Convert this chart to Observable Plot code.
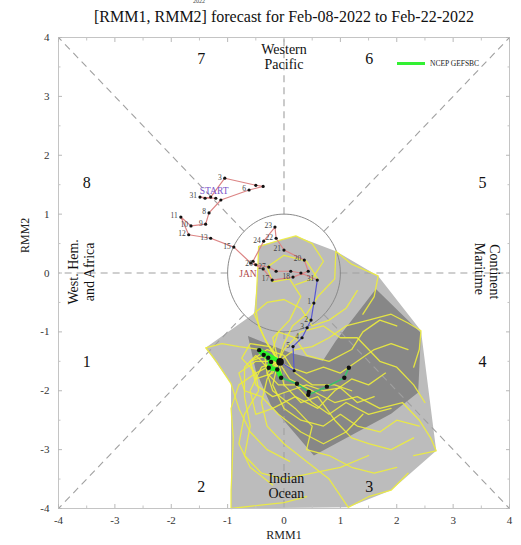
<!DOCTYPE html>
<html><head><meta charset="utf-8">
<script src="https://cdn.jsdelivr.net/npm/d3@7"></script>
<script src="https://cdn.jsdelivr.net/npm/@observablehq/plot@0.6"></script>
<style>
body{margin:0;background:#fff;}
#wrap{position:relative;width:521px;height:545px;font-family:"Liberation Serif","DejaVu Serif",serif;overflow:hidden;}
#title{position:absolute;top:8px;left:284px;transform:translateX(-50%);white-space:nowrap;font-size:16px;line-height:18px;color:#111;}
#yr{position:absolute;top:-2px;left:193px;font-size:6px;color:#444;}
#leg{position:absolute;left:397px;top:56px;height:14px;display:flex;align-items:center;}
#leg .ln{width:28px;height:3px;background:#33f033;margin-right:5px;}
#leg .tx{font-size:7.5px;color:#222;white-space:nowrap;}
#chart{position:absolute;left:0;top:0;}
</style></head><body>
<div id="wrap"><div id="chart"></div>
<div id="yr">2022</div>
<div id="title">[RMM1, RMM2] forecast for Feb-08-2022 to Feb-22-2022</div>
<div id="leg"><div class="ln"></div><div class="tx">NCEP GEFSBC</div></div>
</div>
<script>
// ---- data ----
const majorTicks = [-4,-3,-2,-1,0,1,2,3,4];
const minorTicks = [-3.5,-2.5,-1.5,-0.5,0.5,1.5,2.5,3.5];

const phaseIds = ["1","2","3","4","5","6","7","8"];
const phaseX = [-3.5,-1.47,1.51,3.52,3.52,1.51,-1.47,-3.5];
const phaseY = [-1.51,-3.64,-3.64,-1.51,1.53,3.64,3.64,1.53];

const regionText = ["Western","Pacific","Indian","Ocean"];
const regionX = [0,0,0.04,0.04];
const regionY = [3.80,3.54,-3.49,-3.75];
const westText = ["West. Hem.","and Africa"];
const westX = [-3.73,-3.45];
const westY = [0.02,0.02];
const mcText = ["Maritime","Continent"];
const mcX = [3.46,3.73];
const mcY = [0.07,0.02];

// observed RMM (Dec 30 .. Feb 7)
const obsX = [-1.21,-1.49,-1.40,-1.30,-1.05,-0.50,-0.37,-0.62,-1.12,-1.33,-1.39,-1.65,-1.83,-1.69,-1.30,-0.89,-0.59,-0.37,-0.21,0.16,0.43,0.36,0.00,-0.14,-0.16,-0.36,-0.55,-0.50,-0.27,-0.14,0.12,0.30,0.59,0.53,0.48,0.41,0.32,0.16,0.18,-0.07];
const obsY = [1.27,1.29,1.27,1.29,1.61,1.49,1.47,1.41,1.24,1.02,0.83,0.80,0.95,0.65,0.59,0.44,0.17,0.07,-0.12,-0.07,0.03,0.22,0.39,0.59,0.78,0.54,0.20,0.14,0.10,0.03,0.03,0.00,-0.12,-0.51,-0.80,-0.93,-1.10,-1.25,-1.66,-1.51];
const obsLabel = ["","31","","","3","","","6","","8","9","10","11","12","13","15","","","17","18","","20","21","22","23","24","","26","27","","","","31","1","2","3","4","5","",""];
const obsMonth = ["D","D","J","J","J","J","J","J","J","J","J","J","J","J","J","J","J","J","J","J","J","J","J","J","J","J","J","J","J","J","J","J","J","F","F","F","F","F","F","F"];
const monthText = ["START","JAN"];
const monthX = [-1.24,-0.64];
const monthY = [1.40,-0.02];

// ensemble mean forecast
const fcX = [-0.07,-0.44,-0.36,-0.28,-0.23,-0.27,-0.12,-0.05,0.23,0.44,0.43,0.76,1.07,1.15];
const fcY = [-1.51,-1.31,-1.39,-1.44,-1.51,-1.61,-1.64,-1.78,-1.88,-2.02,-2.07,-1.93,-1.78,-1.61];

// ensemble spread hulls
const spread90 = [[-0.46,0.46],[0.21,0.63],[0.92,0.37],[1.67,-0.05],[2.43,-0.98],[2.70,-3.02],[1.90,-3.69],[1.14,-3.98],[-0.94,-4.0],[-0.94,-1.88],[-1.39,-1.27],[-0.53,-0.69],[-0.46,0.03]];
const spread50 = [[-0.64,-1.07],[0.12,-1.36],[0.69,-1.49],[0.92,-1.15],[1.63,-0.27],[2.43,-1.02],[2.38,-2.03],[1.90,-2.39],[0.53,-3.10],[-0.23,-2.25],[-0.50,-1.66]];

// ensemble members
const members = [
 [[-0.1,-1.5],[-0.3,-1.2],[-0.45,-0.9],[-0.5,-0.6],[-0.48,-0.2],[-0.46,0.2],[-0.45,0.45],[-0.1,0.55],[0.21,0.63],[0.5,0.5],[0.7,0.2],[0.5,-0.1],[0.2,-0.2]],
 [[-0.1,-1.5],[0.0,-1.2],[0.15,-0.9],[0.4,-0.7],[0.6,-0.4],[0.9,-0.1],[0.92,0.37],[1.2,0.15],[1.67,-0.05],[1.6,-0.4],[1.4,-0.7]],
 [[-0.1,-1.5],[0.2,-1.3],[0.5,-1.25],[0.8,-1.1],[1.1,-0.9],[1.5,-0.8],[1.9,-0.7],[2.2,-0.85],[2.43,-0.98],[2.4,-1.3],[2.3,-1.6]],
 [[-0.1,-1.5],[0.1,-1.8],[0.5,-2.0],[0.9,-2.2],[1.3,-2.1],[1.7,-2.3],[2.1,-2.2],[2.4,-2.5],[2.6,-2.8],[2.7,-3.02],[2.3,-3.1]],
 [[-0.1,-1.5],[-0.3,-1.8],[-0.4,-2.2],[-0.3,-2.6],[0.0,-2.9],[0.4,-3.2],[0.8,-3.5],[1.14,-3.98],[1.5,-3.8],[1.9,-3.69],[2.2,-3.4]],
 [[-0.1,-1.5],[-0.5,-1.7],[-0.8,-1.9],[-0.94,-2.3],[-0.9,-2.8],[-0.92,-3.3],[-0.94,-3.7],[-0.94,-4.0],[-0.5,-3.95],[0.0,-3.9],[0.4,-3.8]],
 [[-0.1,-1.5],[-0.4,-1.3],[-0.8,-1.25],[-1.1,-1.2],[-1.39,-1.27],[-1.2,-1.5],[-0.94,-1.88],[-0.8,-2.3],[-0.6,-2.7],[-0.3,-3.0],[0.1,-3.2]],
 [[-0.1,-1.5],[-0.35,-1.1],[-0.53,-0.69],[-0.3,-0.5],[0.0,-0.45],[0.3,-0.6],[0.5,-0.9],[0.8,-0.8],[1.1,-0.6],[1.3,-0.3]],
 [[-0.1,-1.5],[0.1,-1.6],[0.4,-1.7],[0.7,-1.6],[1.0,-1.7],[1.3,-1.5],[1.6,-1.3],[1.9,-1.2],[2.2,-1.3]],
 [[-0.1,-1.5],[-0.2,-1.9],[0.0,-2.3],[0.3,-2.5],[0.7,-2.6],[1.0,-2.4],[1.3,-2.6],[1.7,-2.7],[2.0,-2.5],[2.4,-2.6]],
 [[-0.1,-1.5],[-0.4,-1.6],[-0.6,-2.0],[-0.5,-2.4],[-0.2,-2.3],[0.2,-2.1],[0.6,-2.3],[0.9,-2.0],[1.2,-1.8],[1.5,-1.9],[1.8,-1.7]],
 [[-0.1,-1.5],[-0.3,-1.6],[-0.5,-1.4],[-0.7,-1.6],[-0.7,-2.1],[-0.6,-2.6],[-0.7,-3.1],[-0.4,-3.4],[0.0,-3.5],[0.5,-3.4],[1.0,-3.3],[1.5,-3.1]],
 [[-0.1,-1.5],[0.0,-1.9],[0.3,-2.2],[0.6,-2.1],[0.9,-2.5],[1.2,-2.8],[1.5,-2.9],[1.9,-3.0],[2.3,-2.8]],
 [[-0.1,-1.5],[-0.2,-1.3],[-0.1,-1.0],[0.2,-1.1],[0.4,-1.4],[0.8,-1.5],[1.2,-1.3],[1.4,-1.0],[1.7,-0.8],[2.0,-0.9]],
 [[-0.1,-1.5],[-0.3,-1.4],[-0.6,-1.5],[-0.5,-1.9],[-0.2,-2.1],[0.1,-2.0],[0.4,-1.9],[0.7,-2.0],[1.0,-1.95],[1.3,-2.2],[1.6,-2.1]],
 [[-0.1,-1.5],[-0.2,-1.1],[0.1,-0.8],[0.3,-0.4],[0.1,-0.1],[-0.2,-0.15],[-0.3,0.1],[0.0,0.3],[0.4,0.2],[0.6,-0.1]],
 [[-0.1,-1.5],[-0.3,-1.7],[-0.2,-2.0],[0.2,-2.3],[0.5,-2.6],[0.4,-3.0],[0.8,-3.1],[1.2,-3.3],[1.6,-3.4],[2.0,-3.3]],
 [[-0.1,-1.5],[0.0,-1.3],[0.3,-1.0],[0.7,-0.9],[1.0,-1.1],[1.3,-1.1],[1.7,-1.5],[2.0,-1.6],[2.3,-1.9],[2.5,-2.2]],
 [[-0.1,-1.5],[-0.5,-1.5],[-0.8,-1.7],[-0.7,-2.0],[-0.4,-2.1],[-0.1,-2.4],[0.3,-2.7],[0.7,-2.9],[1.1,-2.7],[1.4,-2.4]],
 [[-0.1,-1.5],[-0.2,-1.7],[-0.5,-1.8],[-0.6,-1.5],[-0.3,-1.3],[0.0,-1.4],[0.2,-1.7],[0.5,-1.9],[0.9,-1.9],[1.2,-2.0]],
 [[-0.1,-1.5],[-0.35,-1.35],[-0.3,-1.7],[-0.1,-1.9],[0.2,-1.9],[0.5,-2.2],[0.8,-2.4],[1.1,-2.2],[1.5,-2.4],[1.9,-2.3]],
 [[-0.1,-1.5],[-0.25,-1.25],[-0.6,-1.2],[-0.75,-1.45],[-0.5,-1.7],[-0.45,-2.0],[-0.7,-2.4],[-0.8,-2.9],[-0.6,-3.3],[-0.2,-3.6]]
];

// ---- derived tables ----
const obs = obsX.map((x,i)=>({x, y:obsY[i], label:obsLabel[i], m:obsMonth[i], i}));
const obsRed = obs.filter(d=>d.m!=="F");
const obsBlue = obs.filter((d,i)=>i>=32);
const fc = fcX.map((x,i)=>({x, y:fcY[i], i}));
const memberPts = members.flatMap((m,k)=>m.map(([x,y])=>({x,y,k})));
const phases = phaseIds.map((t,i)=>({t, x:phaseX[i], y:phaseY[i]}));
const regions = regionText.map((t,i)=>({t, x:regionX[i], y:regionY[i]}));
const wests = westText.map((t,i)=>({t, x:westX[i], y:westY[i]}));
const mcs = mcText.map((t,i)=>({t, x:mcX[i], y:mcY[i]}));
const months = monthText.map((t,i)=>({t, x:monthX[i], y:monthY[i]}));

// phase boundary guides (outside the unit circle)
const guides = d3.range(0,360,45).map(a=>{
  const r = a*Math.PI/180, c = Math.cos(r), s = Math.sin(r);
  const k = 4/Math.max(Math.abs(c),Math.abs(s));
  return {x1:c, y1:s, x2:c*k, y2:s*k};
});
const circle = d3.range(0,361,3).map(a=>({x:Math.cos(a*Math.PI/180), y:Math.sin(a*Math.PI/180)}));

const serif = '"Liberation Serif","DejaVu Serif",serif';
const blank = () => "";
const intFmt = d => String(d);

const plot = Plot.plot({
  width:521, height:545,
  marginLeft:58, marginRight:12, marginTop:37, marginBottom:37,
  x:{domain:[-4,4]}, y:{domain:[-4,4]},
  style:{fontFamily:serif, fontSize:"11px", background:"white", color:"#222"},
  marks:[
    Plot.line(spread90, {x:d=>d[0], y:d=>d[1], fill:"#bcbcbc", stroke:"none"}),
    Plot.line(spread50, {x:d=>d[0], y:d=>d[1], fill:"#878787", stroke:"none"}),
    Plot.link(guides, {x1:"x1", y1:"y1", x2:"x2", y2:"y2", stroke:"#a0a0a0", strokeWidth:1.1, strokeDasharray:"7,5"}),
    Plot.line(circle, {x:"x", y:"y", stroke:"#8a8a8a", strokeWidth:1}),
    Plot.line(memberPts, {x:"x", y:"y", z:"k", stroke:"#eded3c", strokeWidth:1.3, strokeOpacity:0.9}),
    Plot.line(obsRed, {x:"x", y:"y", stroke:"#dc8585", strokeWidth:1.2}),
    Plot.line(obsBlue, {x:"x", y:"y", stroke:"#5858d0", strokeWidth:1.2}),
    Plot.line(fc.filter(d=>d.i<=7), {x:"x", y:"y", stroke:"#2cf52c", strokeWidth:4.5, strokeLinejoin:"round"}),
    Plot.line(fc.filter(d=>d.i>=7), {x:"x", y:"y", stroke:"#35c46a", strokeWidth:1.5}),
    Plot.dot(obs.filter(d=>d.i<39), {x:"x", y:"y", r:1.6, fill:"#111", stroke:"none"}),
    Plot.dot(fc.filter(d=>d.i>0), {x:"x", y:"y", r:2.2, fill:"#111", stroke:"none"}),
    Plot.dot(fc.filter(d=>d.i===0), {x:"x", y:"y", r:3.8, fill:"#111", stroke:"none"}),
    Plot.text(obs.filter(d=>d.label!==""), {x:"x", y:"y", text:"label", dx:-3, dy:-1, textAnchor:"end", fontSize:7.5, fill:"#444"}),
    Plot.text(months.filter(d=>d.t==="START"), {x:"x", y:"y", text:"t", fontSize:9.5, fill:"#7a55c8"}),
    Plot.text(months.filter(d=>d.t==="JAN"), {x:"x", y:"y", text:"t", fontSize:9.5, fill:"#b04848"}),
    Plot.text(phases, {x:"x", y:"y", text:"t", fontSize:16, fill:"#111"}),
    Plot.text(regions, {x:"x", y:"y", text:"t", fontSize:14, fill:"#111"}),
    Plot.text(wests, {x:"x", y:"y", text:"t", fontSize:14, rotate:-90, fill:"#111"}),
    Plot.text(mcs, {x:"x", y:"y", text:"t", fontSize:14, rotate:90, fill:"#111"}),
    Plot.frame({stroke:"#c4c4c4"}),
    Plot.axisX(majorTicks, {anchor:"bottom", tickSize:-4, tickPadding:12, tickFormat:intFmt, stroke:"#b8b8b8", fill:"#333", fontSize:11, label:null}),
    Plot.axisX(majorTicks, {anchor:"top", tickSize:-4, tickFormat:blank, stroke:"#b8b8b8", label:null}),
    Plot.axisX(minorTicks, {anchor:"bottom", tickSize:-2.5, tickFormat:blank, stroke:"#c4c4c4", label:null}),
    Plot.axisX(minorTicks, {anchor:"top", tickSize:-2.5, tickFormat:blank, stroke:"#c4c4c4", label:null}),
    Plot.axisY(majorTicks, {anchor:"left", tickSize:-4, tickPadding:13, tickFormat:intFmt, stroke:"#b8b8b8", fill:"#333", fontSize:11, label:null}),
    Plot.axisY(majorTicks, {anchor:"right", tickSize:-4, tickFormat:blank, stroke:"#b8b8b8", label:null}),
    Plot.axisY(minorTicks, {anchor:"left", tickSize:-2.5, tickFormat:blank, stroke:"#c4c4c4", label:null}),
    Plot.axisY(minorTicks, {anchor:"right", tickSize:-2.5, tickFormat:blank, stroke:"#c4c4c4", label:null}),
    Plot.text(["RMM1"], {frameAnchor:"bottom", dy:30, fontSize:12, fill:"#222"}),
    Plot.text(["RMM2"], {frameAnchor:"left", dx:-33, dy:-20, rotate:-90, fontSize:12, fill:"#222"})
  ]
});
document.getElementById("chart").appendChild(plot);
</script>
</body></html>
